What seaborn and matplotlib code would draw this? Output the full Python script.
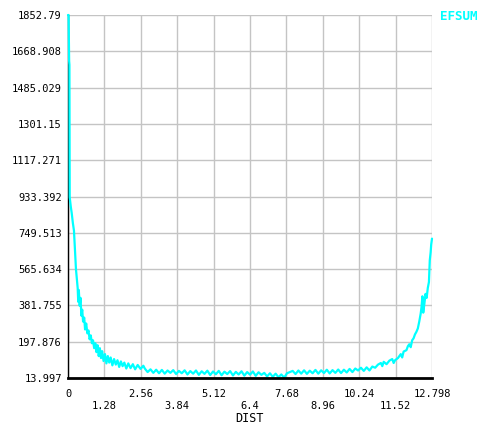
import numpy as np
import matplotlib
matplotlib.use("Agg")
import matplotlib.pyplot as plt
import seaborn as sns

# ---- data ----
dist_left = [0.0, 0.02, 0.04, 0.05, 0.06, 0.10, 0.13, 0.17, 0.21, 0.25, 0.28, 0.31, 0.34,
             0.36, 0.38, 0.41, 0.44, 0.47, 0.50, 0.53, 0.57, 0.60, 0.64, 0.68, 0.72, 0.76,
             0.80, 0.84, 0.88, 0.92, 0.96, 1.00, 1.04, 1.08, 1.12, 1.16, 1.20, 1.25, 1.30,
             1.35, 1.40, 1.45, 1.50, 1.56, 1.62, 1.68, 1.74, 1.80, 1.86, 1.92, 1.98, 2.05,
             2.12, 2.20, 2.28, 2.36, 2.45, 2.55, 2.65]
efsum_left = [1852.79, 1852.79, 1620, 1600, 930, 880, 850, 800, 760, 650, 565, 520, 470,
              400, 460, 380, 420, 330, 360, 300, 320, 260, 290, 240, 255, 210,
              230, 190, 205, 165, 190, 145, 180, 125, 165, 115, 150, 100, 135,
              88, 125, 92, 118, 78, 110, 82, 104, 70, 98, 74, 92, 62,
              88, 64, 84, 58, 80, 60, 76]

dist_mid = [2.7, 2.8, 2.9, 3.0, 3.1, 3.2, 3.3, 3.4, 3.5, 3.6, 3.7, 3.8, 3.9, 4.0, 4.1, 4.2,
            4.3, 4.4, 4.5, 4.6, 4.7, 4.8, 4.9, 5.0, 5.1, 5.2, 5.3, 5.4, 5.5, 5.6, 5.7, 5.8,
            5.9, 6.0, 6.1, 6.2, 6.3, 6.4, 6.5, 6.6, 6.7, 6.8, 6.9, 7.0, 7.1, 7.2, 7.3, 7.4,
            7.5, 7.6, 7.7, 7.8, 7.9, 8.0, 8.1, 8.2, 8.3, 8.4, 8.5, 8.6, 8.7, 8.8, 8.9, 9.0,
            9.1, 9.2, 9.3, 9.4, 9.5, 9.6, 9.7, 9.8, 9.9, 10.0, 10.1, 10.2]
efsum_mid = [62, 44, 58, 40, 56, 38, 55, 36, 52, 40, 54, 34, 50, 38, 53, 32,
             49, 36, 52, 30, 48, 35, 51, 29, 47, 33, 50, 28, 46, 34, 49, 27,
             45, 32, 48, 26, 44, 31, 47, 25, 43, 30, 40, 22, 38, 20, 36, 18,
             32, 16, 38, 44, 50, 34, 52, 36, 53, 35, 51, 38, 55, 36, 53, 39,
             56, 37, 54, 40, 57, 39, 56, 42, 60, 44, 62, 52]

dist_right = [10.3, 10.4, 10.5, 10.6, 10.7, 10.8, 10.9, 11.0, 11.05, 11.1, 11.2, 11.3, 11.4,
              11.45, 11.5, 11.6, 11.7, 11.75, 11.8, 11.9, 11.95, 12.0, 12.05, 12.1, 12.15,
              12.2, 12.25, 12.3, 12.35, 12.4, 12.43, 12.46, 12.49, 12.53, 12.57, 12.61,
              12.65, 12.69, 12.72, 12.75, 12.77, 12.798]
efsum_right = [66, 50, 68, 52, 72, 66, 82, 90, 74, 96, 84, 102, 110,
               90, 104, 115, 135, 118, 148, 155, 175, 185, 170, 205, 215,
               235, 248, 265, 300, 340, 374, 428, 345, 390, 440, 420,
               470, 500, 610, 650, 690, 720]

y_ticks = [13.997, 197.876, 381.755, 565.634, 749.513, 933.392, 1117.271, 1301.15,
           1485.029, 1668.908, 1852.79]
y_labels = ["13.997", "197.876", "381.755", "565.634", "749.513", "933.392", "1117.271",
            "1301.15", "1485.029", "1668.908", "1852.79"]
x_ticks = [0, 1.28, 2.56, 3.84, 5.12, 6.4, 7.68, 8.96, 10.24, 11.52, 12.798]
x_labels = ["0", "1.28", "2.56", "3.84", "5.12", "6.4", "7.68", "8.96", "10.24", "11.52", "12.798"]

dist = dist_left + dist_mid + dist_right
efsum = efsum_left + efsum_mid + efsum_right

sns.set_theme(style="white")
plt.rcParams['font.family'] = ['DejaVu Sans Mono', 'DejaVu Sans']

fig = plt.figure(figsize=(4.84, 4.25), dpi=100)
ax = fig.add_axes([68 / 484, 47 / 425, 364 / 484, 363 / 425])

sns.lineplot(x=dist, y=efsum, ax=ax, color="#00FFFF", linewidth=1.6,
             estimator=None, sort=False, clip_on=False, zorder=5)

ax.set_xlim(0, 12.798)
ax.set_ylim(13.997, 1852.79)
ax.set_xticks(x_ticks)
ax.set_xticklabels([lab if i % 2 == 0 else "\n" + lab for i, lab in enumerate(x_labels)],
                   linespacing=1.2)
ax.set_yticks(y_ticks)
ax.set_yticklabels(y_labels)
ax.grid(True, color="#c4c4c4", linewidth=1.0)
ax.set_axisbelow(True)

for s in ["top", "right"]:
    ax.spines[s].set_visible(False)
ax.spines["left"].set_color("black")
ax.spines["left"].set_linewidth(1.0)
ax.spines["bottom"].set_color("black")
ax.spines["bottom"].set_linewidth(2.0)
ax.spines["bottom"].set_zorder(6)

ax.tick_params(axis="both", labelsize=7.5, colors="black", direction="out")
ax.tick_params(axis="y", length=3, width=0.8, pad=1.5, color="#333333")
ax.tick_params(axis="x", length=5, width=0.8, pad=3, color="#c4c4c4")
ax.set_xlabel("")
ax.set_ylabel("")

fig.text(249 / 484, 1 - 418 / 425, "DIST", ha="center", va="center", fontsize=8.5,
         color="black")
fig.text(440 / 484, 1 - 17 / 425, "EFSUM", ha="left", va="center", fontsize=9,
         color="#00FFFF", fontweight="bold")

fig.savefig("out.png", dpi=100, facecolor="white")
